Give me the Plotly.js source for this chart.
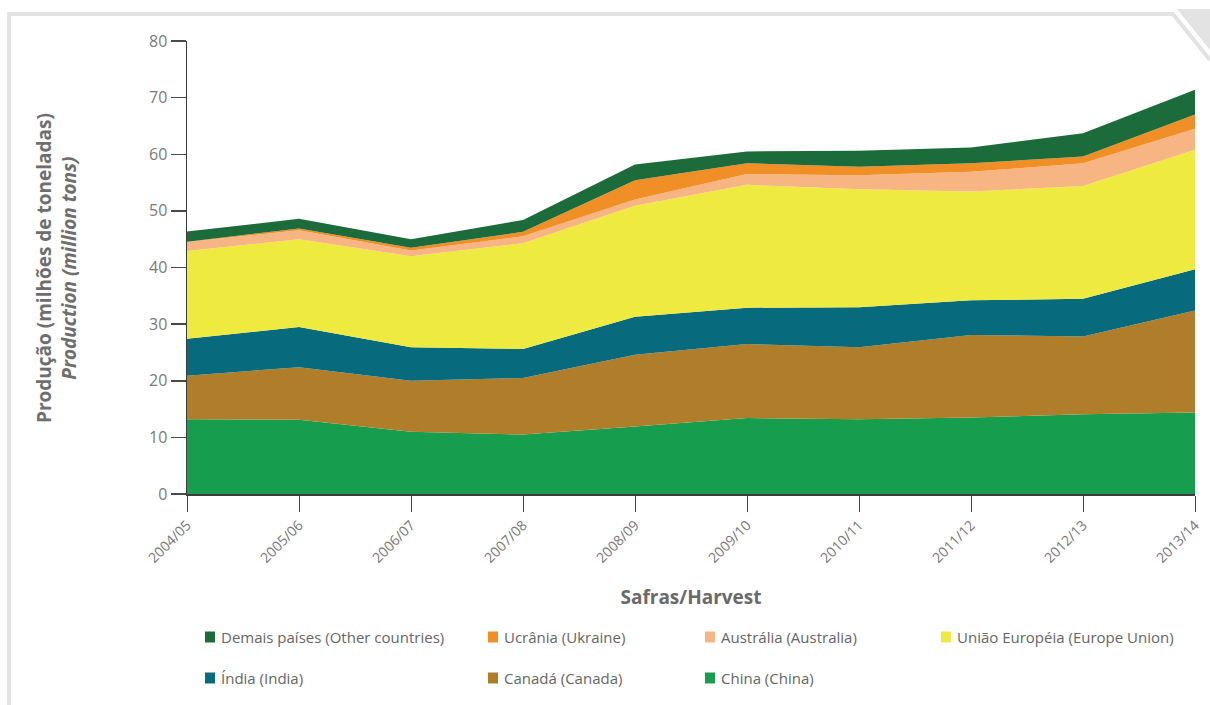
<!DOCTYPE html>
<html>
<head>
<meta charset="utf-8">
<script src="https://cdn.plot.ly/plotly-3.0.1.min.js"></script>
<style>
  html, body { margin: 0; padding: 0; background: #ffffff; }
  #wrap { position: relative; width: 1210px; height: 705px; overflow: hidden; }
  #chart { width: 1210px; height: 705px; }
  svg.frame { position: absolute; left: 0; top: 0; pointer-events: none; }
</style>
</head>
<body>
<div id="wrap">
  <div id="chart"></div>
  <svg class="frame" width="1210" height="705">
    <polyline points="9,705 9,14 1173,14 1210,60" fill="none" stroke="#e3e3e3" stroke-width="4"/>
    <polygon points="1177,9 1210,9 1210,50" fill="#e3e3e3"/>
  </svg>
</div>
<script>
// ---- Data (million tons) ----
const harvests = ["2004/05","2005/06","2006/07","2007/08","2008/09","2009/10","2010/11","2011/12","2012/13","2013/14"];

const china     = [13.2, 13.1, 11.0, 10.5, 11.9, 13.4, 13.2, 13.5, 14.1, 14.4];
const canada    = [ 7.7,  9.3,  9.0, 10.0, 12.7, 13.1, 12.7, 14.6, 13.7, 18.0];
const india     = [ 6.5,  7.1,  5.9,  5.1,  6.7,  6.4,  7.1,  6.1,  6.7,  7.3];
const eu        = [15.5, 15.5, 16.1, 18.7, 19.6, 21.7, 20.8, 19.2, 19.9, 21.1];
const australia = [ 1.6,  1.6,  1.0,  1.2,  1.1,  1.9,  2.5,  3.5,  4.0,  3.7];
const ukraine   = [ 0.05, 0.3,  0.5,  0.8,  3.4,  1.9,  1.5,  1.5,  1.2,  2.5];
const others    = [ 1.8,  1.7,  1.5,  2.1,  2.8,  2.1,  2.8,  2.8,  4.1,  4.4];

const seriesNames = [
  "China (China)",
  "Canadá (Canada)",
  "Índia (India)",
  "União Européia (Europe Union)",
  "Austrália (Australia)",
  "Ucrânia (Ukraine)",
  "Demais países (Other countries)"
];
const seriesValues = [china, canada, india, eu, australia, ukraine, others];

const yTitleLines = ["Produção (milhões de toneladas)", "Production (million tons)"];
const xTitleText = "Safras/Harvest";

// ---- Styles ----
const seriesColors = ["#179d4e", "#b07d2b", "#086b7d", "#eeea40", "#f8b584", "#f18f27", "#1c6b3a"];

const traces = seriesValues.map((vals, i) => ({
  type: "scatter",
  mode: "lines",
  x: harvests,
  y: vals,
  name: seriesNames[i],
  stackgroup: "one",
  fillcolor: seriesColors[i],
  line: { width: 0, color: seriesColors[i] },
  showlegend: false,
  hoverinfo: "x+y+name"
}));

// ---- Layout helpers (pixel -> paper) ----
const W = 1210, H = 705;
const M = { l: 187, r: 15, t: 41, b: 211 };
const PW = W - M.l - M.r, PH = H - M.t - M.b;
const px = x => (x - M.l) / PW;
const py = y => (H - M.b - y) / PH;

// Legend laid out as in the reference: top of stack first, 4 columns x 2 rows
const legendOrder = [6, 5, 4, 3, 2, 1, 0];
const colX = [205, 488, 705, 941];
const rowY = [637, 678];
const shapes = [];
const annotations = [];
legendOrder.forEach((si, k) => {
  const col = k < 4 ? k : k - 4;
  const row = k < 4 ? 0 : 1;
  const x0 = colX[col], yc = rowY[row];
  shapes.push({
    type: "rect", xref: "paper", yref: "paper",
    x0: px(x0), x1: px(x0 + 10), y0: py(yc + 5.5), y1: py(yc - 5.5),
    fillcolor: seriesColors[si], line: { width: 0 }
  });
  annotations.push({
    xref: "paper", yref: "paper", x: px(x0 + 14), y: py(yc),
    xanchor: "left", yanchor: "middle", showarrow: false,
    text: seriesNames[si],
    font: { family: "Open Sans, sans-serif", size: 15, color: "#666666" }
  });
});

// Y axis title (two lines, bold + bold italic), placed like the reference
annotations.push({
  xref: "paper", yref: "paper", x: px(56), y: py(268),
  xanchor: "center", yanchor: "middle", showarrow: false,
  textangle: -90,
  text: "<b>" + yTitleLines[0] + "</b><br><b><i>" + yTitleLines[1] + "</i></b>",
  font: { family: "Open Sans, sans-serif", size: 19, color: "#6e6e6e" }
});

const layout = {
  width: W, height: H,
  margin: M,
  paper_bgcolor: "rgba(0,0,0,0)",
  plot_bgcolor: "#ffffff",
  font: { family: "Open Sans, sans-serif", color: "#777777" },
  showlegend: false,
  xaxis: {
    type: "category",
    range: [0, 9],
    showline: true, linecolor: "#3c3c3c", linewidth: 1.5,
    ticks: "outside", ticklen: 16, tickwidth: 1, tickcolor: "#4a4a4a",
    tickangle: -45,
    tickfont: { family: "Open Sans, sans-serif", size: 14, color: "#777777" },
    showgrid: false, zeroline: false,
    title: { text: "<b>" + xTitleText + "</b>", font: { family: "Open Sans, sans-serif", size: 19, color: "#6a6a6a" }, standoff: 25 }
  },
  yaxis: {
    range: [0, 80], dtick: 10,
    showline: true, linecolor: "#3c3c3c", linewidth: 1.5,
    ticks: "outside", ticklen: 15, tickwidth: 1.5, tickcolor: "#4a4a4a",
    tickfont: { family: "Open Sans, sans-serif", size: 16, color: "#7a7a7a" },
    showgrid: false, zeroline: false
  },
  shapes: shapes,
  annotations: annotations
};

Plotly.newPlot("chart", traces, layout, { displayModeBar: false, staticPlot: true });
</script>
</body>
</html>
